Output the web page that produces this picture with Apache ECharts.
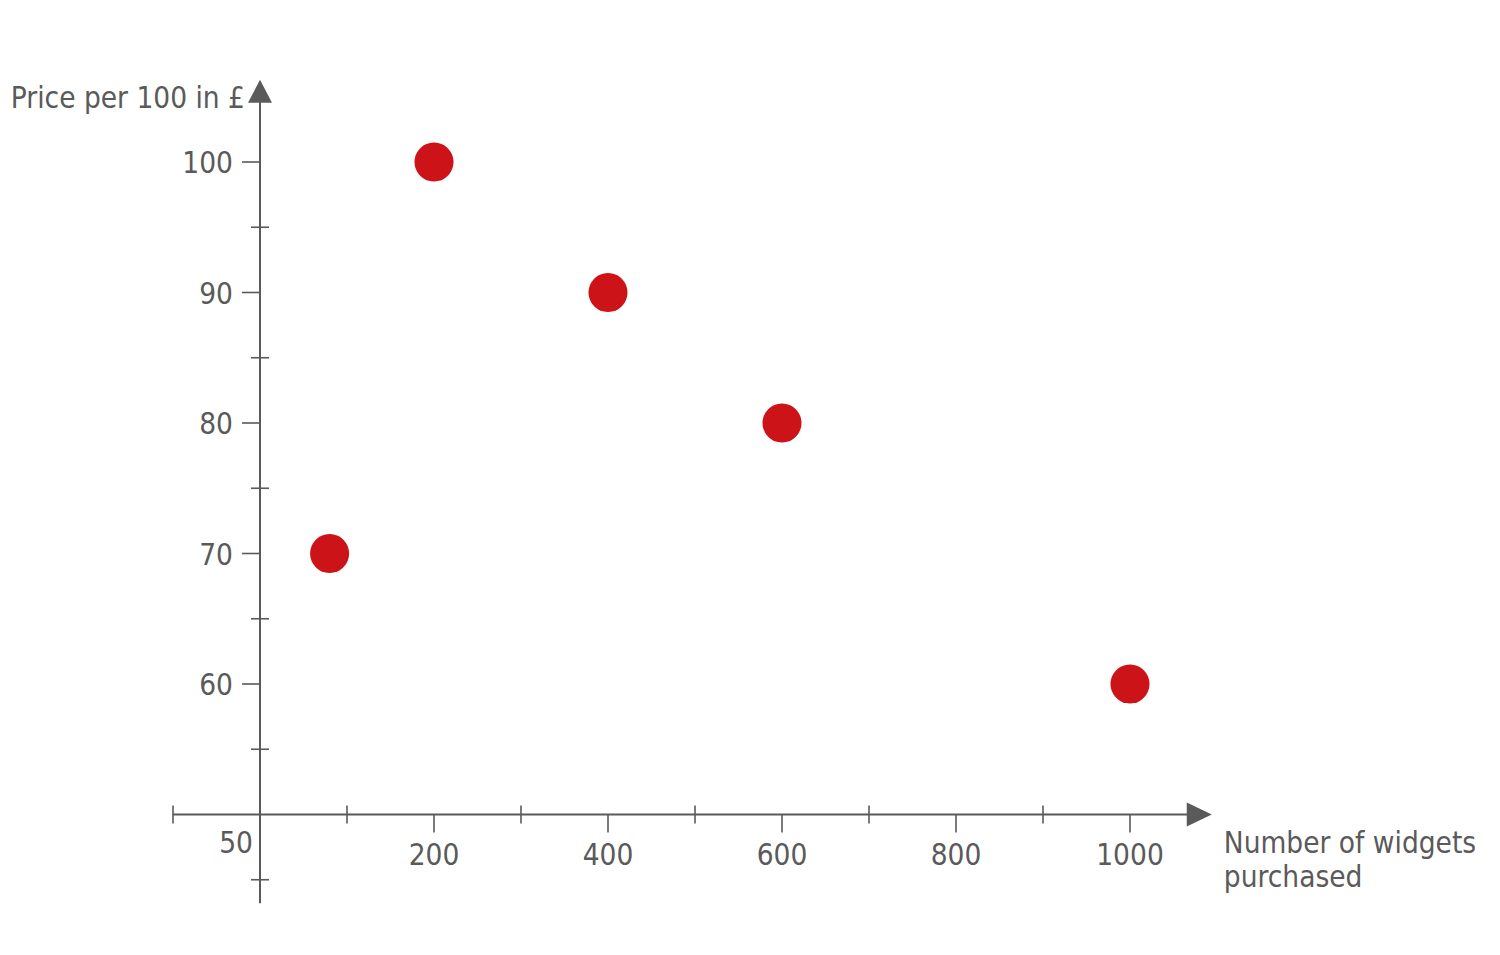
<!DOCTYPE html>
<html><head><meta charset="utf-8">
<script src="https://cdn.jsdelivr.net/npm/echarts@6/dist/echarts.min.js"></script>
<style>html,body{margin:0;padding:0;background:#fff}#c{width:1500px;height:955px}</style>
</head><body><div id="c"></div>
<script>
// ---- data ----
const pointsX = [80, 200, 400, 600, 1000];
const pointsY = [70, 100, 90, 80, 60];
const xTickLabels = [200, 400, 600, 800, 1000];
const xMinorTicks = [-100, 100, 300, 500, 700, 900];
const yTickLabels = [60, 70, 80, 90, 100];
const yMinorTicks = [45, 55, 65, 75, 85, 95];
const originX = 0;
const originY = 50;
const xAxisExtent = [-100, 1094];
const yAxisExtent = [43.2, 106.3];
const xAxisTitle = 'Number of widgets\npurchased';
const yAxisTitle = 'Price per 100 in £';

// ---- styles ----
const INK = '#5a5a5a';
const FONT = '"DejaVu Sans Condensed", "DejaVu Sans", sans-serif';
const FS = 29.5;

const chart = echarts.init(document.getElementById('c'), null, {renderer: 'svg'});

const tickData = [];
xMinorTicks.forEach(v => tickData.push([v, originY, 0]));
xTickLabels.forEach(v => tickData.push([v, originY, 1]));
yMinorTicks.forEach(v => tickData.push([originX, v, 2]));
yTickLabels.forEach(v => tickData.push([originX, v, 3]));

const labelData = [];
xTickLabels.forEach(v => labelData.push([v, originY, 0]));
yTickLabels.forEach(v => labelData.push([originX, v, 1]));
labelData.push([originX, originY, 2]);

function txt(x, y, text, align, vAlign, extra) {
  return {type: 'text', x: x, y: y, style: Object.assign({
    text: text, fill: INK, fontSize: FS, fontFamily: FONT,
    align: align, verticalAlign: vAlign
  }, extra || {})};
}

chart.setOption({
  animation: false,
  backgroundColor: '#ffffff',
  grid: {left: 173, right: 283, top: 31.5, bottom: 10},
  xAxis: {type: 'value', min: -100, max: 1100, show: false},
  yAxis: {type: 'value', min: 40, max: 110, show: false},
  series: [
    {
      type: 'custom', name: 'axes', silent: true, z: 1,
      data: [[originX, originY]],
      renderItem: function (params, api) {
        const o = api.coord([originX, originY]);
        const xs = api.coord([xAxisExtent[0], originY]);
        const xe = api.coord([xAxisExtent[1], originY]);
        const ys = api.coord([originX, yAxisExtent[0]]);
        const ye = api.coord([originX, yAxisExtent[1]]);
        const ls = {stroke: INK, lineWidth: 2};
        return {type: 'group', children: [
          {type: 'line', shape: {x1: xs[0], y1: o[1], x2: xe[0] - 24, y2: o[1]}, style: ls},
          {type: 'polygon', shape: {points: [[xe[0], o[1]], [xe[0] - 25, o[1] - 12], [xe[0] - 25, o[1] + 12]]}, style: {fill: INK}},
          {type: 'line', shape: {x1: o[0], y1: ys[1], x2: o[0], y2: ye[1] + 22}, style: ls},
          {type: 'polygon', shape: {points: [[o[0], ye[1]], [o[0] - 12, ye[1] + 23], [o[0] + 12, ye[1] + 23]]}, style: {fill: INK}},
          txt(o[0] - 15, ye[1] + 18, yAxisTitle, 'right', 'middle'),
          txt(xe[0] + 12, o[1] + 45, xAxisTitle, 'left', 'middle', {lineHeight: 34})
        ]};
      }
    },
    {
      type: 'custom', name: 'ticks', silent: true, z: 2,
      data: tickData,
      renderItem: function (params, api) {
        const p = api.coord([api.value(0), api.value(1)]);
        const k = api.value(2);
        let shape;
        if (k === 0) shape = {x1: p[0], y1: p[1] - 9, x2: p[0], y2: p[1] + 9};
        else if (k === 1) shape = {x1: p[0], y1: p[1], x2: p[0], y2: p[1] + 18};
        else if (k === 2) shape = {x1: p[0] - 9, y1: p[1], x2: p[0] + 9, y2: p[1]};
        else shape = {x1: p[0] - 18, y1: p[1], x2: p[0], y2: p[1]};
        return {type: 'line', shape: shape, style: {stroke: INK, lineWidth: 1.6}};
      }
    },
    {
      type: 'custom', name: 'labels', silent: true, z: 3,
      data: labelData,
      renderItem: function (params, api) {
        const p = api.coord([api.value(0), api.value(1)]);
        const k = api.value(2);
        if (k === 0) return txt(p[0], p[1] + 40, String(api.value(0)), 'center', 'middle');
        if (k === 1) return txt(p[0] - 27, p[1] + 1, String(api.value(1)), 'right', 'middle');
        return txt(p[0] - 7, p[1] + 28, String(api.value(1)), 'right', 'middle');
      }
    },
    {
      type: 'scatter', name: 'points', z: 5,
      symbolSize: 39,
      itemStyle: {color: '#cc1418', opacity: 1},
      data: pointsX.map((x, i) => [x, pointsY[i]])
    }
  ]
});
</script>
</body></html>
